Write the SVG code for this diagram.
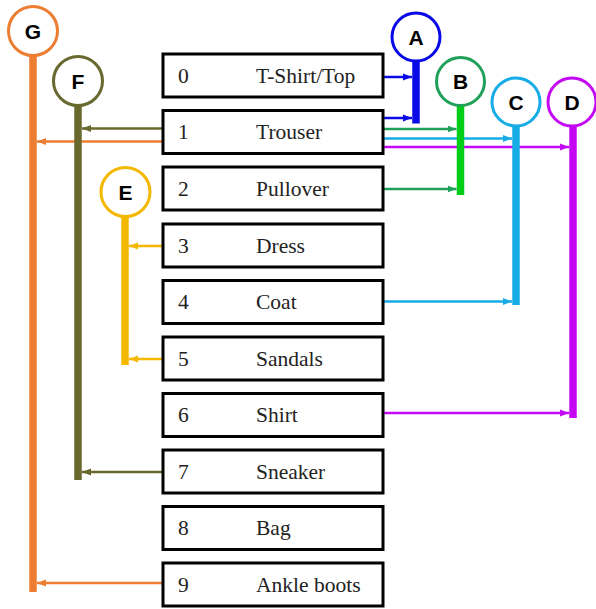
<svg xmlns="http://www.w3.org/2000/svg" width="596" height="609" viewBox="0 0 596 609">
<style>
.box{fill:#fff;stroke:#000;stroke-width:3}
.num,.lbl{font-family:"Liberation Serif","Times New Roman",serif;font-size:21.5px;fill:#222}
.ltr{font-family:"Liberation Sans",Arial,sans-serif;font-size:21px;font-weight:bold;fill:#000;text-anchor:middle}
.circ{fill:#fff;stroke-width:3}
.stem{stroke-width:7.5}
.ln{stroke-width:2.5;fill:none}
</style>
<defs>
<marker id="mA" markerUnits="userSpaceOnUse" markerWidth="9" markerHeight="8" refX="9" refY="4" orient="auto"><path d="M0,0.5 L9,4 L0,7.5 z" fill="#0a0ae6"/></marker>
<marker id="mB" markerUnits="userSpaceOnUse" markerWidth="9" markerHeight="8" refX="9" refY="4" orient="auto"><path d="M0,0.5 L9,4 L0,7.5 z" fill="#1fa15a"/></marker>
<marker id="mC" markerUnits="userSpaceOnUse" markerWidth="9" markerHeight="8" refX="9" refY="4" orient="auto"><path d="M0,0.5 L9,4 L0,7.5 z" fill="#16ace6"/></marker>
<marker id="mD" markerUnits="userSpaceOnUse" markerWidth="9" markerHeight="8" refX="9" refY="4" orient="auto"><path d="M0,0.5 L9,4 L0,7.5 z" fill="#c408f4"/></marker>
<marker id="mE" markerUnits="userSpaceOnUse" markerWidth="9" markerHeight="8" refX="9" refY="4" orient="auto"><path d="M0,0.5 L9,4 L0,7.5 z" fill="#f4b800"/></marker>
<marker id="mF" markerUnits="userSpaceOnUse" markerWidth="9" markerHeight="8" refX="9" refY="4" orient="auto"><path d="M0,0.5 L9,4 L0,7.5 z" fill="#68682f"/></marker>
<marker id="mG" markerUnits="userSpaceOnUse" markerWidth="9" markerHeight="8" refX="9" refY="4" orient="auto"><path d="M0,0.5 L9,4 L0,7.5 z" fill="#ed7d31"/></marker>
</defs>
<rect width="596" height="609" fill="#fff"/>
<g id="connectors">
<line class="ln" x1="383" y1="77" x2="412" y2="77" stroke="#0a0ae6" marker-end="url(#mA)"/>
<line class="ln" x1="383" y1="118" x2="412" y2="118" stroke="#0a0ae6" marker-end="url(#mA)"/>
<line class="ln" x1="383" y1="129" x2="456.5" y2="129" stroke="#1fa15a" marker-end="url(#mB)"/>
<line class="ln" x1="383" y1="189" x2="456.5" y2="189" stroke="#1fa15a" marker-end="url(#mB)"/>
<line class="ln" x1="383" y1="138.5" x2="512" y2="138.5" stroke="#16ace6" marker-end="url(#mC)"/>
<line class="ln" x1="383" y1="301.5" x2="512" y2="301.5" stroke="#16ace6" marker-end="url(#mC)"/>
<line class="ln" x1="383" y1="147" x2="569" y2="147" stroke="#c408f4" marker-end="url(#mD)"/>
<line class="ln" x1="383" y1="413" x2="569" y2="413" stroke="#c408f4" marker-end="url(#mD)"/>
<line class="ln" x1="163" y1="246" x2="129" y2="246" stroke="#f4b800" marker-end="url(#mE)"/>
<line class="ln" x1="163" y1="359" x2="129" y2="359" stroke="#f4b800" marker-end="url(#mE)"/>
<line class="ln" x1="163" y1="128.5" x2="82" y2="128.5" stroke="#68682f" marker-end="url(#mF)"/>
<line class="ln" x1="163" y1="472" x2="82" y2="472" stroke="#68682f" marker-end="url(#mF)"/>
<line class="ln" x1="163" y1="141.5" x2="37" y2="141.5" stroke="#ed7d31" marker-end="url(#mG)"/>
<line class="ln" x1="163" y1="583" x2="37" y2="583" stroke="#ed7d31" marker-end="url(#mG)"/>
</g>
<g id="node-G"><line class="stem" x1="33" y1="55" x2="33" y2="592" stroke="#ed7d31"/><circle class="circ" cx="33" cy="31" r="24.5" stroke="#ed7d31"/><text class="ltr" x="33" y="38.5">G</text></g>
<g id="node-F"><line class="stem" x1="78" y1="105" x2="78" y2="480" stroke="#68682f"/><circle class="circ" cx="78" cy="81" r="24.5" stroke="#68682f"/><text class="ltr" x="78" y="88.5">F</text></g>
<g id="node-E"><line class="stem" x1="125" y1="216" x2="125" y2="365" stroke="#f4b800"/><circle class="circ" cx="125.5" cy="192" r="24.5" stroke="#f4b800"/><text class="ltr" x="125.5" y="199.5">E</text></g>
<g id="node-A"><line class="stem" x1="416" y1="60" x2="416" y2="123.5" stroke="#0a0ae6"/><circle class="circ" cx="416" cy="37" r="24" stroke="#0a0ae6"/><text class="ltr" x="416" y="44.5">A</text></g>
<g id="node-B"><line class="stem" x1="460.5" y1="105" x2="460.5" y2="195" stroke="#00cc1a"/><circle class="circ" cx="460.5" cy="81.5" r="24" stroke="#1fa15a"/><text class="ltr" x="460.5" y="89">B</text></g>
<g id="node-C"><line class="stem" x1="516" y1="125" x2="516" y2="305" stroke="#16ace6"/><circle class="circ" cx="516" cy="102" r="24" stroke="#16ace6"/><text class="ltr" x="516" y="109.5">C</text></g>
<g id="node-D"><line class="stem" x1="573" y1="125" x2="573" y2="418" stroke="#c408f4"/><circle class="circ" cx="572" cy="102" r="24" stroke="#c408f4"/><text class="ltr" x="572" y="109.5">D</text></g>
<g id="item-0"><rect class="box" x="163" y="54" width="220" height="43"/><text class="num" x="178" y="82.5">0</text><text class="lbl" x="256" y="82.5">T-Shirt/Top</text></g>
<g id="item-1"><rect class="box" x="163" y="110.5" width="220" height="43"/><text class="num" x="178" y="139">1</text><text class="lbl" x="256" y="139">Trouser</text></g>
<g id="item-2"><rect class="box" x="163" y="167" width="220" height="43"/><text class="num" x="178" y="195.5">2</text><text class="lbl" x="256" y="195.5">Pullover</text></g>
<g id="item-3"><rect class="box" x="163" y="224" width="220" height="43"/><text class="num" x="178" y="252.5">3</text><text class="lbl" x="256" y="252.5">Dress</text></g>
<g id="item-4"><rect class="box" x="163" y="280.5" width="220" height="43"/><text class="num" x="178" y="309">4</text><text class="lbl" x="256" y="309">Coat</text></g>
<g id="item-5"><rect class="box" x="163" y="337" width="220" height="43"/><text class="num" x="178" y="365.5">5</text><text class="lbl" x="256" y="365.5">Sandals</text></g>
<g id="item-6"><rect class="box" x="163" y="393.5" width="220" height="43"/><text class="num" x="178" y="422">6</text><text class="lbl" x="256" y="422">Shirt</text></g>
<g id="item-7"><rect class="box" x="163" y="450" width="220" height="43"/><text class="num" x="178" y="478.5">7</text><text class="lbl" x="256" y="478.5">Sneaker</text></g>
<g id="item-8"><rect class="box" x="163" y="506.5" width="220" height="43"/><text class="num" x="178" y="535">8</text><text class="lbl" x="256" y="535">Bag</text></g>
<g id="item-9"><rect class="box" x="163" y="563" width="220" height="43"/><text class="num" x="178" y="591.5">9</text><text class="lbl" x="256" y="591.5">Ankle boots</text></g>
</svg>
